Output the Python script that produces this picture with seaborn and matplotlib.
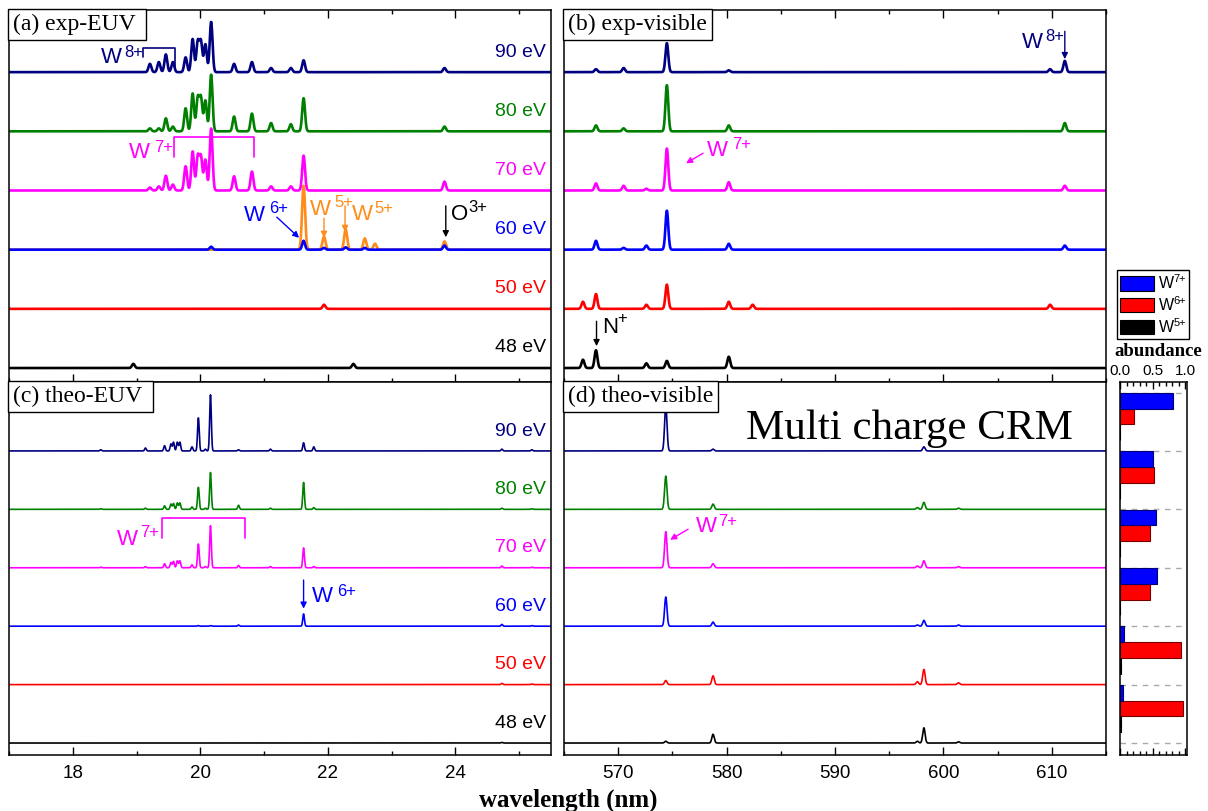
import numpy as np
import pandas as pd
import matplotlib
matplotlib.use("Agg")
import matplotlib.pyplot as plt
from matplotlib.patches import Patch
from matplotlib.ticker import MultipleLocator, FormatStrFormatter
import seaborn as sns

sns.set_theme(style="ticks")
plt.rcParams.update({
    "font.family": ["Liberation Sans", "DejaVu Sans"],
    "mathtext.fontset": "custom",
    "mathtext.rm": "Liberation Sans",
    "mathtext.it": "Liberation Sans:italic",
    "mathtext.bf": "Liberation Sans:bold",
    "axes.edgecolor": "black",
    "axes.linewidth": 1.1,
    "xtick.color": "black",
    "ytick.color": "black",
    "text.color": "black",
})
SERIF = ["Liberation Serif", "DejaVu Serif"]

# ---------------------------------------------------------------- data
ENERGIES = [48, 50, 60, 70, 80, 90]          # electron beam energy (eV), bottom -> top
TRACE_COLORS = ["black", "red", "blue", "magenta", "green", "navy"]

# experimental EUV lines (nm) and intensities for each energy (offset units)
EUV_EXP_POS = [18.95, 19.21, 19.35, 19.46, 19.57, 19.77, 19.88, 19.96, 20.01, 20.08, 20.17,
               20.53, 20.81, 21.11, 21.42, 21.62, 21.94, 22.28, 22.40, 22.58, 22.74, 23.83]
EUV_EXP_48 = [0.07, 0, 0, 0, 0, 0, 0, 0, 0, 0, 0, 0, 0, 0, 0, 0, 0, 0, 0.07, 0, 0, 0]
EUV_EXP_50 = [0, 0, 0, 0, 0, 0, 0, 0, 0, 0, 0, 0, 0, 0, 0, 0, 0.07, 0, 0, 0, 0, 0]
EUV_EXP_60 = [0, 0, 0, 0, 0, 0, 0, 0, 0, 0, 0.05, 0, 0, 0, 0, 0.15, 0.03, 0.04, 0, 0.03, 0, 0.07]
EUV_EXP_70 = [0, 0.05, 0.07, 0.25, 0.10, 0.41, 0.66, 0.57, 0.56, 0.52, 1.05,
              0.24, 0.32, 0.07, 0.07, 0.59, 0, 0, 0, 0, 0, 0.15]
EUV_EXP_80 = [0, 0.05, 0.05, 0.22, 0.08, 0.39, 0.64, 0.56, 0.56, 0.52, 0.96,
              0.25, 0.30, 0.14, 0.12, 0.56, 0, 0, 0, 0, 0, 0.08]
EUV_EXP_90 = [0, 0.14, 0.17, 0.30, 0.17, 0.25, 0.56, 0.51, 0.51, 0.47, 0.85,
              0.14, 0.17, 0.07, 0.07, 0.20, 0, 0, 0, 0, 0, 0.07]
# overlaid spectrum at the 60 eV position (W5+ lines)
EUV_EXP_60_ALT = [0, 0, 0, 0, 0, 0, 0, 0, 0, 0, 0, 0, 0, 0, 0, 1.08, 0.22, 0.34, 0, 0.19, 0.10, 0.14]

# experimental visible lines (nm)
VIS_EXP_POS = [566.75, 567.95, 570.5, 572.6, 574.49, 580.2, 582.4, 609.84, 611.2]
VIS_EXP_48 = [0.14, 0.30, 0, 0.08, 0.12, 0.19, 0, 0, 0]
VIS_EXP_50 = [0.12, 0.25, 0, 0.07, 0.41, 0.12, 0.07, 0.07, 0]
VIS_EXP_60 = [0, 0.15, 0.03, 0.07, 0.66, 0.10, 0, 0, 0.07]
VIS_EXP_70 = [0, 0.12, 0.08, 0.03, 0.71, 0.14, 0, 0, 0.08]
VIS_EXP_80 = [0, 0.10, 0.05, 0, 0.78, 0.10, 0, 0, 0.14]
VIS_EXP_90 = [0, 0.05, 0.07, 0, 0.49, 0.03, 0, 0.05, 0.19]

# theoretical EUV lines (nm)
EUV_THEO_POS = [18.44, 19.14, 19.44, 19.54, 19.58, 19.64, 19.68, 19.87, 19.97, 20.08, 20.16,
                20.60, 21.10, 21.62, 21.78, 24.73, 25.20]
EUV_THEO_48 = [0, 0, 0, 0, 0, 0, 0, 0, 0, 0, 0, 0, 0, 0, 0, 0.01, 0]
EUV_THEO_50 = [0, 0, 0, 0, 0, 0, 0, 0, 0, 0, 0, 0, 0, 0, 0, 0.02, 0.01]
EUV_THEO_60 = [0, 0, 0, 0, 0, 0, 0, 0, 0.01, 0, 0.01, 0.02, 0, 0.21, 0, 0.03, 0.01]
EUV_THEO_70 = [0.01, 0.02, 0.07, 0.09, 0.11, 0.12, 0.12, 0.05, 0.41, 0.02, 0.72,
               0.04, 0.02, 0.34, 0.02, 0.03, 0.01]
EUV_THEO_80 = [0.01, 0.02, 0.06, 0.09, 0.10, 0.11, 0.11, 0.04, 0.38, 0.02, 0.63,
               0.07, 0.02, 0.46, 0.03, 0.02, 0.01]
EUV_THEO_90 = [0.02, 0.05, 0.09, 0.12, 0.15, 0.15, 0.15, 0.07, 0.57, 0.03, 0.96,
               0.02, 0.03, 0.14, 0.07, 0.03, 0.02]

# theoretical visible lines (nm)
VIS_THEO_POS = [574.39, 578.75, 597.6, 598.2, 601.4]
VIS_THEO_48 = [0.03, 0.15, 0.03, 0.26, 0.02]
VIS_THEO_50 = [0.07, 0.15, 0.05, 0.26, 0.03]
VIS_THEO_60 = [0.50, 0.07, 0.02, 0.10, 0.02]
VIS_THEO_70 = [0.62, 0.07, 0.03, 0.12, 0.02]
VIS_THEO_80 = [0.57, 0.09, 0.03, 0.12, 0.02]
VIS_THEO_90 = [0.77, 0.03, 0.00, 0.07, 0.00]

# charge-state abundances from the CRM, per energy (48 .. 90 eV)
ABUND_W7 = [0.04, 0.066, 0.57, 0.555, 0.50, 0.81]
ABUND_W6 = [0.975, 0.945, 0.46, 0.465, 0.52, 0.22]
ABUND_W5 = [0.02, 0.012, 0.006, 0.004, 0.003, 0.003]
ION_LABELS = ["W5+", "W6+", "W7+"]
ION_COLORS = {"W7+": "blue", "W6+": "red", "W5+": "black"}

EXP_EUV = [EUV_EXP_48, EUV_EXP_50, EUV_EXP_60, EUV_EXP_70, EUV_EXP_80, EUV_EXP_90]
EXP_VIS = [VIS_EXP_48, VIS_EXP_50, VIS_EXP_60, VIS_EXP_70, VIS_EXP_80, VIS_EXP_90]
THEO_EUV = [EUV_THEO_48, EUV_THEO_50, EUV_THEO_60, EUV_THEO_70, EUV_THEO_80, EUV_THEO_90]
THEO_VIS = [VIS_THEO_48, VIS_THEO_50, VIS_THEO_60, VIS_THEO_70, VIS_THEO_80, VIS_THEO_90]

EUV_RANGE = (17.0, 25.5)
VIS_RANGE = (565.0, 615.0)
EXP_YLIM = (-0.236, 6.05)
THEO_YLIM = (-0.205, 6.18)


# ---------------------------------------------------------------- helpers
def line_profile(grid, centers, heights, sigma):
    c = np.asarray(centers, float)[:, None]
    h = np.asarray(heights, float)[:, None]
    return (h * np.exp(-0.5 * ((grid[None, :] - c) / sigma) ** 2)).sum(axis=0)


def stacked_frame(grid, centers, table, sigma):
    parts = []
    for i, (energy, heights) in enumerate(zip(ENERGIES, table)):
        parts.append(pd.DataFrame({
            "wavelength": grid,
            "signal": i + line_profile(grid, centers, heights, sigma),
            "energy": energy,
        }))
    return pd.concat(parts, ignore_index=True)


PALETTE = dict(zip(ENERGIES, TRACE_COLORS))

W, H = 1208, 811
fig = plt.figure(figsize=(W / 100, H / 100), dpi=100)


def px_axes(x0, y0, x1, y1):
    return fig.add_axes([x0 / W, 1 - y1 / H, (x1 - x0) / W, (y1 - y0) / H])


def style_axis(ax, xlim, ylim, major, minor, top, labels):
    ax.set_xlim(*xlim)
    ax.set_ylim(*ylim)
    ax.xaxis.set_major_locator(MultipleLocator(major))
    ax.xaxis.set_minor_locator(MultipleLocator(minor))
    ax.tick_params(axis="x", which="both", direction="in", top=top, bottom=True,
                   labelbottom=labels, labeltop=False, labelsize=13.5, pad=7, width=1.0)
    ax.tick_params(axis="x", which="major", length=5.5)
    ax.tick_params(axis="x", which="minor", length=3)
    ax.set_yticks([])
    ax.set_xlabel("")
    ax.set_ylabel("")
    for s in ax.spines.values():
        s.set_visible(True)
        s.set_linewidth(1.1)
        s.set_color("black")


def panel_tag(ax, text):
    ax.annotate(text, xy=(0, 1), xycoords="axes fraction", xytext=(3.0, -3.0),
                textcoords="offset points", ha="left", va="top", fontsize=17,
                family=SERIF, zorder=20,
                bbox=dict(boxstyle="square,pad=0.2", fc="white", ec="black", lw=1.0))


def energy_labels(ax):
    for i, (e, c) in enumerate(zip(ENERGIES, TRACE_COLORS)):
        ax.text(0.991, i + 0.34, f"{e} eV", color=c, fontsize=14, ha="right", va="center",
                transform=ax.get_yaxis_transform())


def ion(ax, x, y, sx, sy, charge, color, size=16, sup=12):
    base, sup_text = ("W", charge) if charge[0].isdigit() else (charge[0], charge[1:])
    ax.text(x, y, base, color=color, fontsize=size, ha="center", va="center")
    ax.text(sx, sy, sup_text, color=color, fontsize=sup, ha="center", va="center")


def arrow(ax, x0, y0, x1, y1, color):
    ax.annotate("", xy=(x1, y1), xytext=(x0, y0),
                arrowprops=dict(arrowstyle="-|>", color=color, lw=1.0, mutation_scale=9,
                                shrinkA=0, shrinkB=0))


def bracket(ax, x0, x1, ytop, yl, yr, color):
    ax.plot([x0, x0, x1, x1], [yl, ytop, ytop, yr], color=color, lw=1.2)


# ---------------------------------------------------------------- axes
ax_a = px_axes(9, 10, 551, 382)
ax_b = px_axes(564, 10, 1106, 382)
ax_c = px_axes(9, 382, 551, 755)
ax_d = px_axes(564, 382, 1106, 755)
ax_ab = px_axes(1120, 382, 1187, 755)

euv_grid = np.arange(EUV_RANGE[0], EUV_RANGE[1] + 1e-9, 0.004)
vis_grid = np.arange(VIS_RANGE[0], VIS_RANGE[1] + 1e-9, 0.02)

EXP_LW = 1.9
THEO_LW = 1.2

# (a) experimental EUV
alt = pd.DataFrame({"wavelength": euv_grid,
                    "signal": 2 + line_profile(euv_grid, EUV_EXP_POS, EUV_EXP_60_ALT, 0.024)})
sns.lineplot(data=alt, x="wavelength", y="signal", color="#ff8c1a", lw=EXP_LW,
             estimator=None, ax=ax_a)
sns.lineplot(data=stacked_frame(euv_grid, EUV_EXP_POS, EXP_EUV, 0.022), x="wavelength",
             y="signal", hue="energy", palette=PALETTE, lw=EXP_LW, estimator=None,
             legend=False, ax=ax_a)
style_axis(ax_a, EUV_RANGE, EXP_YLIM, 2, 1, True, False)
energy_labels(ax_a)
panel_tag(ax_a, "(a) exp-EUV ")

ion(ax_a, 18.61, 5.24, 18.96, 5.34, "8+", "navy")
bracket(ax_a, 19.10, 19.60, 5.41, 5.25, 5.08, "navy")
ion(ax_a, 19.05, 3.64, 19.42, 3.73, "7+", "magenta")
bracket(ax_a, 19.59, 20.84, 3.90, 3.56, 3.56, "magenta")
ion(ax_a, 20.85, 2.58, 21.23, 2.70, "6+", "blue")
arrow(ax_a, 21.20, 2.55, 21.55, 2.20, "blue")
ion(ax_a, 21.89, 2.68, 22.25, 2.80, "5+", "#ff8c1a")
arrow(ax_a, 21.94, 2.53, 21.94, 2.20, "#ff8c1a")
arrow(ax_a, 22.27, 2.74, 22.27, 2.30, "#ff8c1a")
ion(ax_a, 22.54, 2.59, 22.88, 2.70, "5+", "#ff8c1a")
arrow(ax_a, 23.85, 2.74, 23.85, 2.21, "black")
ion(ax_a, 24.07, 2.59, 24.36, 2.72, "O3+", "black")

# (b) experimental visible
sns.lineplot(data=stacked_frame(vis_grid, VIS_EXP_POS, EXP_VIS, 0.13), x="wavelength",
             y="signal", hue="energy", palette=PALETTE, lw=EXP_LW, estimator=None,
             legend=False, ax=ax_b)
style_axis(ax_b, VIS_RANGE, EXP_YLIM, 10, 5, True, False)
panel_tag(ax_b, "(b) exp-visible")
ion(ax_b, 608.17, 5.50, 610.24, 5.61, "8+", "navy")
arrow(ax_b, 611.2, 5.69, 611.2, 5.22, "navy")
ion(ax_b, 579.17, 3.67, 581.34, 3.78, "7+", "magenta")
arrow(ax_b, 577.83, 3.63, 576.26, 3.46, "magenta")
arrow(ax_b, 568.0, 0.79, 568.0, 0.37, "black")
ion(ax_b, 569.25, 0.68, 570.40, 0.83, "N+", "black")

# (c) theoretical EUV
sns.lineplot(data=stacked_frame(euv_grid, EUV_THEO_POS, THEO_EUV, 0.013), x="wavelength",
             y="signal", hue="energy", palette=PALETTE, lw=THEO_LW, estimator=None,
             legend=False, ax=ax_c)
style_axis(ax_c, EUV_RANGE, THEO_YLIM, 2, 1, False, True)
energy_labels(ax_c)
panel_tag(ax_c, "(c) theo-EUV ")
ion(ax_c, 18.85, 3.48, 19.21, 3.61, "7+", "magenta")
bracket(ax_c, 19.40, 20.70, 3.85, 3.51, 3.51, "magenta")
arrow(ax_c, 21.62, 2.79, 21.62, 2.30, "blue")
ion(ax_c, 21.91, 2.51, 22.30, 2.60, "6+", "blue")

# (d) theoretical visible
sns.lineplot(data=stacked_frame(vis_grid, VIS_THEO_POS, THEO_VIS, 0.11), x="wavelength",
             y="signal", hue="energy", palette=PALETTE, lw=THEO_LW, estimator=None,
             legend=False, ax=ax_d)
style_axis(ax_d, VIS_RANGE, THEO_YLIM, 10, 5, False, True)
panel_tag(ax_d, "(d) theo-visible")
ion(ax_d, 578.11, 3.70, 580.14, 3.80, "7+", "magenta")
arrow(ax_d, 576.45, 3.66, 574.79, 3.48, "magenta")
ax_d.text(596.9, 5.21, "Multi charge CRM", family=SERIF, fontsize=31, ha="center",
          va="baseline")

# abundance bars, one group per energy between its baseline and the next
ab = pd.DataFrame({
    "level": np.repeat(np.arange(len(ENERGIES)) + 0.59, 3),
    "abundance": np.ravel(np.column_stack([ABUND_W5, ABUND_W6, ABUND_W7])),
    "ion": ION_LABELS * len(ENERGIES),
})
for k in range(len(ENERGIES) + 1):
    ax_ab.axhline(k, xmin=0, xmax=0.93, color="#aaaaaa", ls=(0, (4, 4)), lw=1.0, zorder=0)
sns.barplot(data=ab, x="abundance", y="level", hue="ion", hue_order=ION_LABELS,
            palette=ION_COLORS, orient="y", native_scale=True, width=0.81, dodge=True,
            errorbar=None, saturation=1, legend=False, linewidth=0.8, ax=ax_ab)
for p in ax_ab.patches:
    fc = p.get_facecolor()
    p.set_edgecolor((fc[0] * 0.45, fc[1] * 0.45, fc[2] * 0.45, 1))
ax_ab.set_xlim(0, 1.03)
ax_ab.set_ylim(*THEO_YLIM)
ax_ab.xaxis.set_major_locator(MultipleLocator(0.5))
ax_ab.xaxis.set_minor_locator(MultipleLocator(0.1))
ax_ab.xaxis.set_major_formatter(FormatStrFormatter("%.1f"))
ax_ab.tick_params(axis="x", which="both", direction="in", top=True, bottom=True,
                  labeltop=True, labelbottom=False, labelsize=11, pad=3, width=1.0)
ax_ab.tick_params(axis="x", which="major", length=5)
ax_ab.tick_params(axis="x", which="minor", length=3)
ax_ab.set_yticks([])
ax_ab.set_xlabel("")
ax_ab.set_ylabel("")
for s in ax_ab.spines.values():
    s.set_visible(True)
    s.set_linewidth(1.1)
fig.text(1158 / W, 1 - 352 / H, "abundance", family=SERIF, fontweight="bold", fontsize=13.5,
         ha="center", va="center")

handles = [Patch(facecolor=ION_COLORS[n], edgecolor="black", lw=0.8) for n in ["W7+", "W6+", "W5+"]]
leg = fig.legend(handles, [r"W$^{7\!\!+}$", r"W$^{6\!\!+}$", r"W$^{5\!\!+}$"], loc="upper left",
                 bbox_to_anchor=(1117 / W, 1 - 270 / H), borderaxespad=0, fontsize=11.5,
                 frameon=True, fancybox=False, framealpha=1, edgecolor="black",
                 handlelength=2.1, handleheight=1.0, labelspacing=0.2,
                 handletextpad=0.25, borderpad=0.2)
leg.get_frame().set_linewidth(1.0)

fig.text(568.5 / W, 1 - 800 / H, "wavelength (nm)", family=SERIF, fontweight="bold",
         fontsize=18, ha="center", va="center")

fig.savefig("out.png", dpi=100)
